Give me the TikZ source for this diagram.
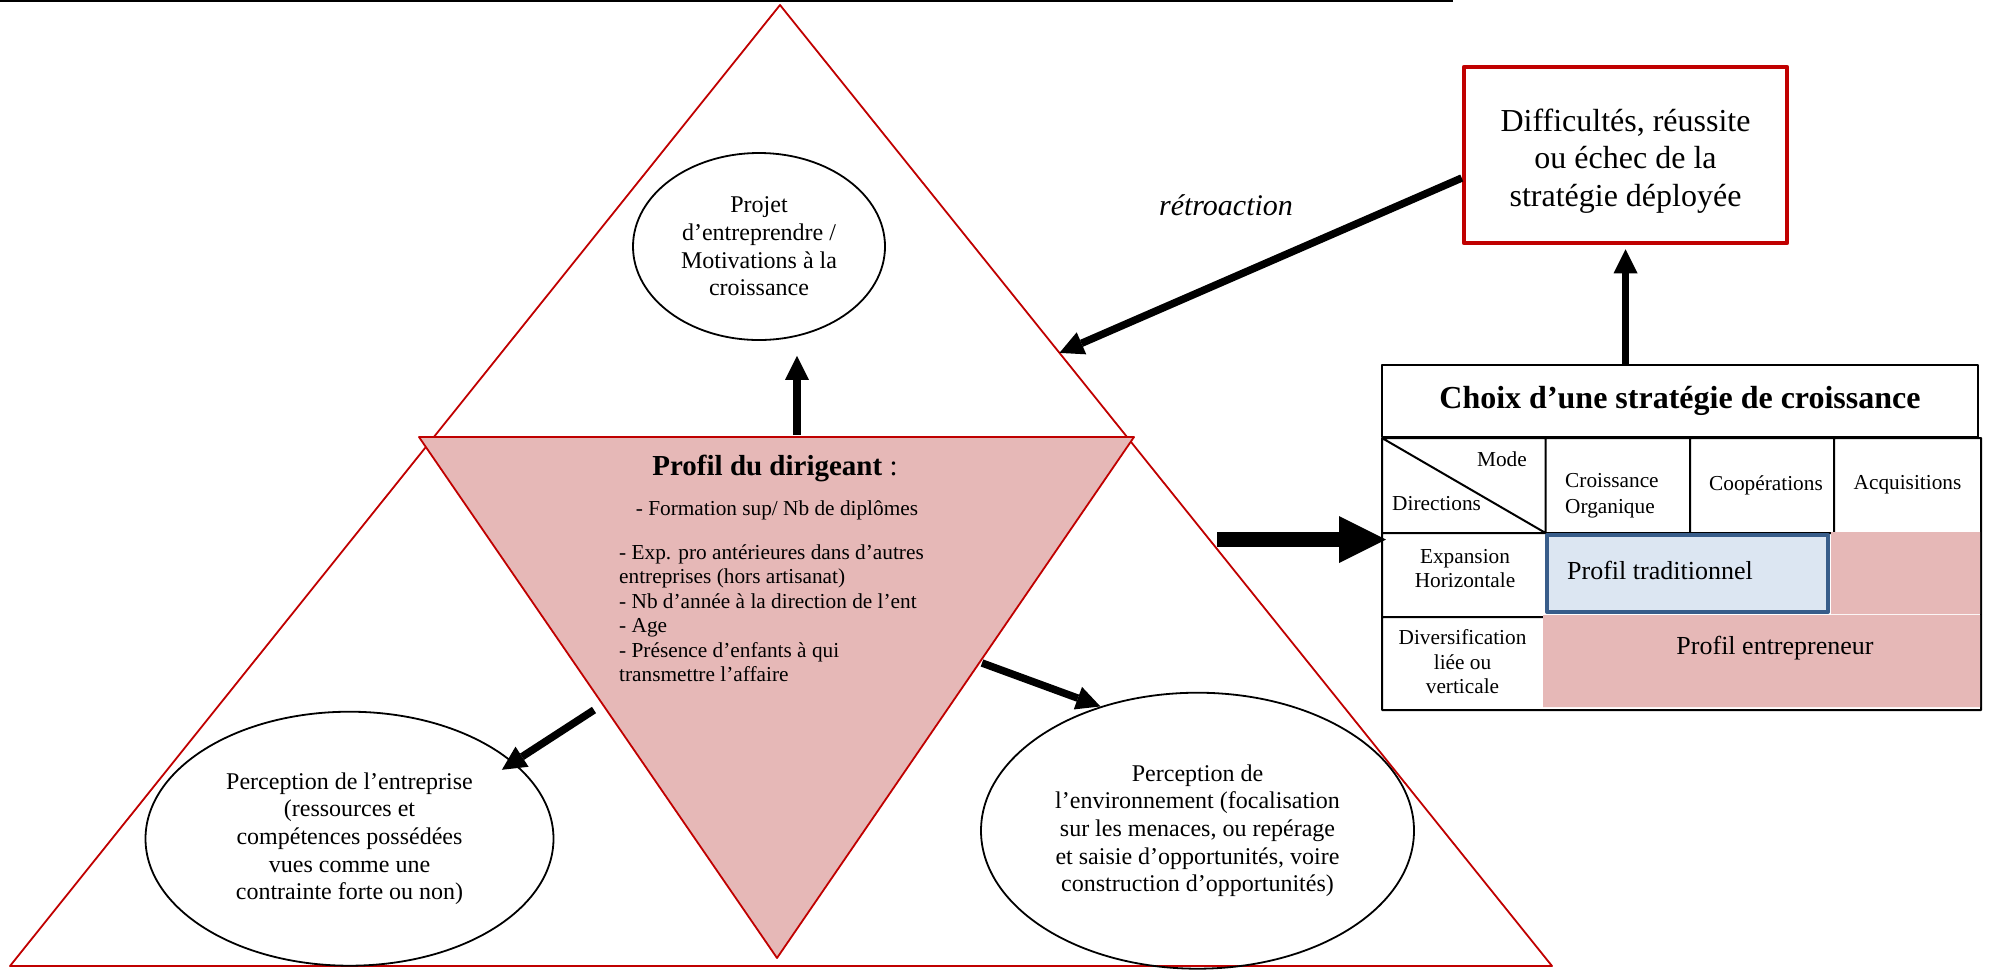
\documentclass[tikz,border=0pt]{standalone}
\usepackage{fontspec}
\setmainfont{Liberation Serif}
\usetikzlibrary{arrows.meta,shapes.geometric,calc}
\definecolor{rougeT}{RGB}{192,0,0}
\definecolor{roseP}{RGB}{230,184,183}
\definecolor{bleuP}{RGB}{220,230,242}
\definecolor{bleuB}{RGB}{56,93,138}
\begin{document}
\begin{tikzpicture}[x=1pt,y=-1pt,line join=round,
	>={Triangle[length=24pt,width=24pt,line width=0pt]},
	ell/.style={ellipse,draw,line width=1.8pt,inner sep=0pt,align=center,font=\fontsize{24}{27.6}\selectfont},
	tabtxt/.style={inner sep=0pt,align=center,font=\fontsize{21.3}{24.5}\selectfont},
	fleche/.style={->,line width=7.5pt}]
				\useasboundingbox (0,0) rectangle (1993,970);
				\path
				(780,5) coordinate (T_1)
				(10,966) coordinate (T_2)
				(1552,966) coordinate (T_3)
				(419,437) coordinate (P_1)
				(1134,437) coordinate (P_2)
				(777,958) coordinate (P_3)
				($(T_1)!0.362!(T_3)$) coordinate (R)
				(797,435) coordinate (haut)
				(594,710) coordinate (gauche)
				(982,663) coordinate (droite)
				(1217,539.5) coordinate (depart)
				(1382,438) coordinate (G_1)
				(1981,710) coordinate (G_2)
				;
				\draw[line width=2pt] (0,1)--(1453,1);
				\draw[rougeT,line width=1.8pt] (T_1)--(T_2)--(T_3)--cycle;
				\draw[rougeT,line width=1.8pt,fill=roseP] (P_1)--(P_2)--(P_3)--cycle;
				\node[ell,minimum width=252pt,minimum height=187pt] (projet) at (759,246.5) {Projet\\d’entreprendre /\\Motivations à la\\croissance};
				\node[ell,minimum width=408pt,minimum height=254pt] (entreprise) at (349.5,838.7) {Perception de l’entreprise\\(ressources et\\compétences possédées\\vues comme une\\contrainte forte ou non)};
				\node[ell,minimum width=433pt,minimum height=276pt] (environnement) at (1197.5,830.7) {Perception de\\l’environnement (focalisation\\sur les menaces, ou repérage\\et saisie d’opportunités, voire\\construction d’opportunités)};
				\node[inner sep=0pt,font=\fontsize{29}{33}\selectfont] (dirigeant) at (775,468) {\textbf{Profil du dirigeant} :};
				\node[tabtxt] (formation) at (777,510) {- Formation sup/ Nb de diplômes};
				\node[tabtxt,align=left,anchor=west] (criteres) at (619,613.4) {- Exp. pro antérieures dans d’autres\\entreprises (hors artisanat)\\- Nb d’année à la direction de l’ent\\- Age\\- Présence d’enfants à qui\\transmettre l’affaire};
				\node[draw=rougeT,line width=4.5pt,minimum width=323pt,minimum height=176pt,align=center,font=\fontsize{32}{37.5}\selectfont] (resultat) at (1625.5,155) {\rule{0pt}{34pt}Difficultés, réussite\\ou échec de la\\stratégie déployée};
				\node[font=\itshape\fontsize{30}{34}\selectfont,inner sep=0pt] (retro) at (1226,205) {rétroaction};
				\node[draw,line width=2pt,minimum width=596pt,minimum height=72pt,font=\bfseries\fontsize{32}{36}\selectfont] (choix) at (1680,401) {Choix d’une stratégie de croissance};
				\draw[line width=2pt]
				(G_1) rectangle (G_2)
				(G_1)--(1545.6,533)
				(1545.6,438)--(1545.6,533) (1690,438)--(1690,533) (1834,438)--(1834,533)
				(1382,533)--(1981,533) (1382,617)--(1545.6,617)
				;
				\fill[roseP] (1831,532) rectangle (1980,614) (1543,615) rectangle (1980,707);
				\draw[bleuB,line width=4pt,fill=bleuP] (1547,535) rectangle (1828,612);
				\node[tabtxt,anchor=east] (mode) at (1527,459) {Mode};
				\node[tabtxt,anchor=west] (directions) at (1392,504) {Directions};
				\node[tabtxt,align=left,anchor=west,font=\fontsize{21.3}{26}\selectfont] (organique) at (1565,496) {Croissance\\Organique};
				\node[tabtxt] (cooperations) at (1766,485) {Coopérations};
				\node[tabtxt] (acquisitions) at (1907.5,485) {Acquisitions};
				\node[tabtxt] (horizontale) at (1465,568.5) {Expansion\\Horizontale};
				\node[tabtxt] (diversification) at (1462.5,661.7) {Diversification\\liée ou\\verticale};
				\node[inner sep=0pt,anchor=west,font=\fontsize{26}{30}\selectfont] (traditionnel) at (1567,570) {Profil traditionnel};
				\node[inner sep=0pt,font=\fontsize{26}{30}\selectfont] (entrepreneur) at (1775,648) {Profil entrepreneur};
				\draw[fleche,shorten >=15pt] (haut) -- (haut |- projet.south);
				\draw[fleche,shorten >=-14pt] (gauche) -- (entreprise.25);
				\draw[fleche] (droite) -- (environnement.128);
				\draw[fleche] (resultat.188) -- (R);
				\draw[fleche,shorten >=4pt] (resultat.south |- choix.north) -- (resultat.south);
				\draw[line width=15pt,-{Triangle[length=47pt,width=47pt,line width=0pt]},shorten >=-5pt] (depart) -- (depart -| choix.west);
			\end{tikzpicture}
\end{document}
